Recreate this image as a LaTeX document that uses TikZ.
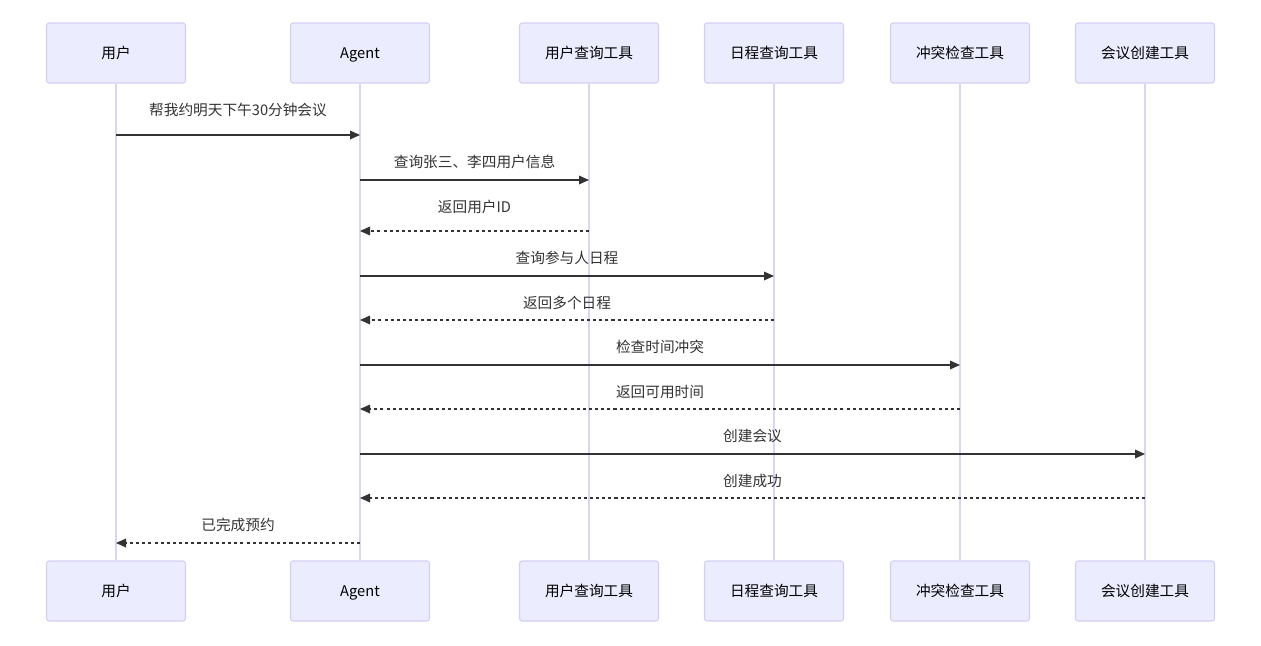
\documentclass[tikz,border=0pt]{standalone}
\usepackage{fontspec}
\setmainfont{Noto Sans CJK SC}
\usetikzlibrary{arrows.meta}
\definecolor{actorfill}{HTML}{ECECFF}
\definecolor{actorline}{HTML}{D4CEF5}
\definecolor{lifecolor}{HTML}{DCD4F5}
\definecolor{msgcolor}{HTML}{333333}

\tikzset{
  actor/.style={draw=actorline, fill=actorfill, line width=0.8pt, rounded corners=2pt,
    minimum width=139*0.75pt, minimum height=60*0.75pt, inner sep=0pt,
    text height=9pt, text depth=0.8pt,
    font=\fontsize{11}{13}\selectfont, text=black},
  lifeline/.style={draw=lifecolor, line width=1.2pt},
  msg/.style={draw=msgcolor, line width=0.9pt, -{Triangle[length=7.5pt,width=6.5pt]}},
  reply/.style={msg, dash pattern=on 2.3pt off 2.3pt},
  msglabel/.style={font=\fontsize{11}{13}\selectfont, text=msgcolor}
}

\begin{document}
\begin{tikzpicture}[x=0.75pt, y=-0.75pt]
\useasboundingbox (0,0) rectangle (1261,646);

% participants, top and bottom, with lifelines
\foreach \name/\x/\txt in {user/116/用户, agent/360/Agent, usertool/589/用户查询工具,
    caltool/774/日程查询工具, conftool/960/冲突检查工具, meettool/1145/会议创建工具}
{
	\node[actor] (\name) at (\x,53) {\txt};
	\node[actor] (\name b) at (\x,591) {\txt};
	\draw[lifeline] (\name) -- (\name b);
}

% messages
\foreach \from/\to/\y/\dy/\sty/\txt in {
    user/agent/135/25/msg/帮我约明天下午30分钟会议,
    agent/usertool/180/18/msg/查询张三、李四用户信息,
    usertool/agent/231/24/reply/返回用户ID,
    agent/caltool/276/18/msg/查询参与人日程,
    caltool/agent/320/17/reply/返回多个日程,
    agent/conftool/365/18/msg/检查时间冲突,
    conftool/agent/409/17/reply/返回可用时间,
    agent/meettool/454/18/msg/创建会议,
    meettool/agent/498/17/reply/创建成功,
    agent/user/543/18/reply/已完成预约}
	\draw[\sty] (\from |- 0,\y) -- (\to |- 0,\y)
		node[msglabel, midway, yshift=\dy*0.75pt] {\txt};
\end{tikzpicture}
\end{document}
